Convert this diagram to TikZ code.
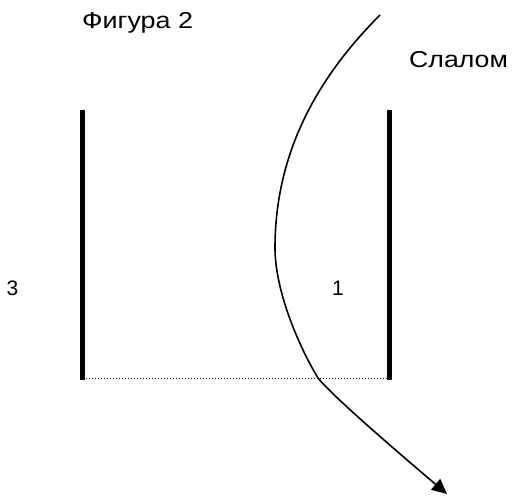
\documentclass[tikz,border=0pt]{standalone}
\usepackage{fontspec}
\setmainfont{Liberation Sans}
\usetikzlibrary{arrows.meta}
\begin{document}
\begin{tikzpicture}[x=1pt,y=-1pt,
  lbl/.style={inner sep=0pt,anchor=base west,font=\fontsize{21}{24}\selectfont},
  wlbl/.style={inner sep=0pt,anchor=base west,font=\fontsize{23}{26}\selectfont},
  bar/.style={line width=4.5pt},
  path/.style={line width=1.6pt,-{Triangle[length=15pt,width=14pt]}}]
\useasboundingbox (0,0) rectangle (512,498);
\node[wlbl] (fig) at (82,28.3) {\scalebox{1.17}[1]{Фигура 2}};
\node[wlbl] (sl) at (409,67) {\scalebox{1.16}[1]{Слалом}};
\node[lbl] (n3) at (6.4,295.7) {3};
\node[lbl] (n1) at (332,295.7) {1};
\coordinate (lt) at (82.5,110);
\coordinate (lb) at (82.5,380);
\coordinate (rt) at (389.5,110);
\coordinate (rb) at (389.5,380);
\draw[bar] (lt) -- (lb);
\draw[bar] (rt) -- (rb);
\coordinate (dl) at (82.5,378.5);
\coordinate (dr) at (389.5,378.5);
\draw[dotted, line width=1pt] (dl) -- (dr);
\coordinate (s) at (380,15);
\coordinate (m) at (275,248);
\coordinate (c) at (318,378);
\coordinate (e) at (447,494);
\draw[path] (s) .. controls (320,75) and (275,150) .. (m)
  .. controls (275,290) and (298,345) .. (c)
  .. controls (333,397) and (407,460) .. (e);
\end{tikzpicture}
\end{document}
